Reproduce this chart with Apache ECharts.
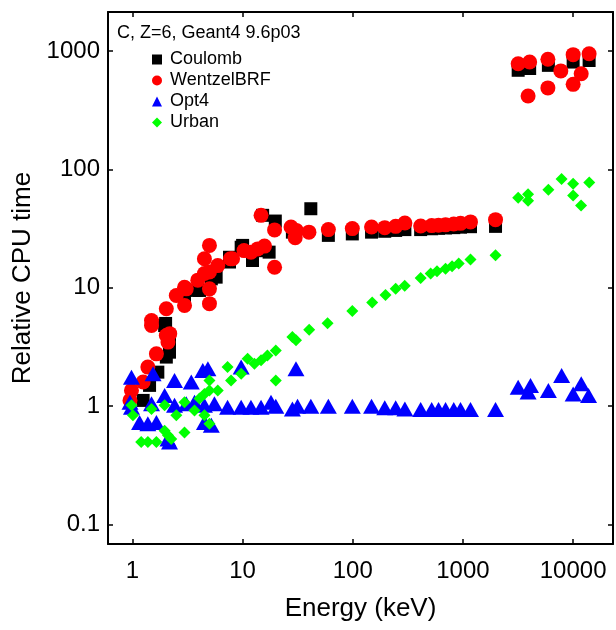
<!DOCTYPE html>
<html>
<head>
<meta charset="utf-8">
<script src="https://cdn.jsdelivr.net/npm/echarts@6/dist/echarts.min.js"></script>
<style>html,body{margin:0;padding:0;background:#fff}#c{width:616px;height:630px}</style>
</head>
<body>
<div id="c"></div>
<script>
const annotation = 'C, Z=6, Geant4 9.6p03';
const xTicks = [1, 10, 100, 1000, 10000];
const yTicks = [0.1, 1, 10, 100, 1000];

const coulombE = [1.25, 1.43, 1.7, 2.03, 2.17, 1.96, 2.17, 2.0, 2.97, 3.8, 4.06, 5.2, 5.75, 7.6, 7.6, 9.7, 10, 12.3, 14.2, 15.2, 15.2, 17.4, 19.8, 28.3, 41.6, 60, 99, 148, 195, 245, 297, 413, 520, 600, 695, 825, 950, 1170, 1975, 3170, 4030, 5960, 10000, 13960];
const coulombV = [1.12, 1.5, 1.94, 2.6, 2.86, 4.8, 3.6, 5.0, 8.35, 9.5, 9.5, 11.9, 12.3, 16.5, 18.1, 22, 22.8, 17, 20.6, 20.6, 40.9, 20, 36.6, 29.5, 46.5, 27.7, 28.5, 29.5, 30, 30.5, 31, 31, 31.5, 31.8, 32, 32.2, 32.5, 32.8, 33, 686, 710, 755, 805, 830];

const wentzelE = [0.95, 0.98, 1.25, 1.38, 1.49, 1.49, 1.65, 2.03, 2.1, 2.18, 2.03, 2.5, 2.97, 2.97, 3.08, 3.92, 4.5, 4.5, 5.0, 5.0, 5.0, 5.0, 5.95, 7.75, 8.1, 10.3, 11.9, 13.7, 14.7, 15.8, 19.5, 19.5, 27.5, 30, 30.7, 40, 60, 99, 148, 195, 245, 297, 413, 520, 600, 695, 825, 950, 1170, 1975, 3170, 4030, 3900, 5900, 5900, 7730, 10000, 10000, 11830, 13960];
const wentzelV = [1.12, 1.36, 1.6, 2.14, 4.8, 5.3, 2.77, 3.96, 3.48, 4.1, 6.65, 8.6, 7.1, 10.1, 9.8, 11.6, 13.2, 17.6, 22.8, 9.8, 7.35, 13.6, 15.4, 17.6, 17.6, 20.6, 20, 21.3, 40.9, 22.5, 30.8, 14.9, 32.6, 26.5, 30.5, 29.5, 31, 31.6, 32.6, 32.2, 33, 35.2, 33.2, 33.5, 33.8, 34.0, 34.6, 35, 36, 37.6, 779, 805, 416, 850, 487, 678, 930, 522, 641, 945];

const opt4E = [0.95, 0.98, 0.98, 1.16, 1.38, 1.49, 1.54, 1.65, 1.96, 2.1, 2.17, 2.41, 2.41, 3.08, 3.42, 3.66, 4.35, 4.5, 4.5, 4.84, 5.2, 5.55, 7.3, 9.7, 9.7, 11.9, 14.7, 18.1, 20, 28.3, 30.5, 31.5, 41.6, 60, 99, 148, 195, 245, 297, 413, 520, 600, 695, 825, 950, 1170, 1975, 3170, 3900, 4100, 5960, 7860, 10000, 11840, 13800];
const opt4V = [1.08, 0.98, 1.76, 0.73, 0.71, 1.05, 1.88, 0.73, 1.23, 0.53, 0.5, 1.65, 1.02, 1.05, 1.6, 1.08, 2.0, 0.73, 1.02, 2.07, 0.69, 1.05, 0.98, 0.98, 2.14, 0.98, 0.98, 1.08, 1.0, 0.95, 2.07, 1.0, 1.0, 1.0, 1.0, 1.0, 0.97, 0.97, 0.95, 0.94, 0.94, 0.94, 0.94, 0.94, 0.94, 0.94, 0.94, 1.45, 1.32, 1.5, 1.36, 1.82, 1.27, 1.55, 1.23];

const urbanE = [0.98, 1.01, 1.2, 1.38, 1.49, 1.65, 1.96, 1.96, 2.1, 2.25, 2.5, 2.97, 2.97, 3.66, 4.06, 4.5, 4.5, 5.0, 5.0, 5.0, 5.95, 7.3, 7.85, 9.7, 11.1, 12.8, 14.7, 16.8, 20, 20, 28.3, 30.5, 40.2, 59, 99, 150, 198, 245, 296, 413, 509, 581, 695, 796, 915, 1170, 1975, 3170, 3900, 3900, 5960, 7850, 10000, 10000, 11800, 14000];
const urbanV = [1.02, 0.84, 0.5, 0.5, 0.95, 0.5, 0.62, 1.02, 0.57, 0.53, 0.84, 1.08, 0.6, 0.92, 1.16, 1.27, 0.84, 1.36, 1.65, 0.71, 1.36, 2.14, 1.65, 1.88, 2.52, 2.28, 2.44, 2.68, 1.65, 2.96, 3.84, 3.6, 4.43, 5.03, 6.36, 7.5, 8.7, 9.8, 10.4, 12.1, 13.2, 13.8, 14.5, 15.2, 16.0, 17.3, 18.8, 57.6, 61.6, 54.2, 67.3, 83, 75.5, 60, 49.5, 77.5];

const zip = (a, b) => a.map((v, i) => [v, b[i]]);
const FONT = "'Liberation Sans', Arial, sans-serif";
const matchTick = (list, v) => list.find(t => Math.abs(Math.log10(v) - Math.log10(t)) < 1e-6);
const fmt = list => v => { const t = matchTick(list, v); return t === undefined ? '' : String(t); };

const xMin = 0.6, xMax = 23000, yMin = 0.0687, yMax = 2130;
const lineStyle = { color: '#000', width: 2 };
const tickStyle = { show: true, inside: true, length: 5, lineStyle: { color: '#000', width: 1.5 } };

const chart = echarts.init(document.getElementById('c'), null, { renderer: 'canvas' });
chart.setOption({
  animation: false,
  backgroundColor: '#fff',
  title: {
    text: annotation, left: 112, top: 19,
    textStyle: { fontFamily: FONT, fontSize: 18, fontWeight: 'normal', color: '#000' }
  },
  legend: {
    orient: 'vertical', left: 147, top: 44, itemGap: 0,
    itemWidth: 10, itemHeight: 10,
    textStyle: { fontFamily: FONT, fontSize: 18, color: '#000', lineHeight: 21, padding: [0, 0, 0, 3] },
    data: [
      { name: 'Coulomb', icon: 'rect' },
      { name: 'WentzelBRF', icon: 'circle' },
      { name: 'Opt4', icon: 'triangle' },
      { name: 'Urban', icon: 'diamond' }
    ]
  },
  grid: { left: 108, right: 3, top: 12, bottom: 86, containLabel: false },
  xAxis: [{
    type: 'log', logBase: 10, min: xMin, max: xMax,
    name: 'Energy (keV)', nameLocation: 'middle', nameGap: 52,
    nameTextStyle: { fontFamily: FONT, fontSize: 26, color: '#000' },
    axisLine: { show: true, onZero: false, lineStyle },
    axisTick: tickStyle,
    axisLabel: { fontFamily: FONT, fontSize: 24, color: '#000', margin: 15, formatter: fmt(xTicks), showMinLabel: false, showMaxLabel: false },
    splitLine: { show: false }, minorTick: { show: false }
  }, {
    type: 'log', logBase: 10, min: xMin, max: xMax, position: 'top',
    axisLine: { show: true, onZero: false, lineStyle },
    axisTick: tickStyle, axisLabel: { show: false }, splitLine: { show: false }
  }],
  yAxis: [{
    type: 'log', logBase: 10, min: yMin, max: yMax,
    name: 'Relative CPU time', nameLocation: 'middle', nameGap: 72,
    nameTextStyle: { fontFamily: FONT, fontSize: 26, color: '#000' },
    axisLine: { show: true, onZero: false, lineStyle },
    axisTick: tickStyle,
    axisLabel: { fontFamily: FONT, fontSize: 24, color: '#000', margin: 8, formatter: fmt(yTicks), showMinLabel: false, showMaxLabel: false },
    splitLine: { show: false }, minorTick: { show: false }
  }, {
    type: 'log', logBase: 10, min: yMin, max: yMax, position: 'right',
    axisLine: { show: true, onZero: false, lineStyle },
    axisTick: tickStyle, axisLabel: { show: false }, splitLine: { show: false }
  }],
  series: [
    { name: 'Coulomb', type: 'scatter', symbol: 'rect', symbolSize: 13,
      itemStyle: { color: '#000000', opacity: 1 }, data: zip(coulombE, coulombV) },
    { name: 'WentzelBRF', type: 'scatter', symbol: 'circle', symbolSize: 15,
      itemStyle: { color: '#ff0000', opacity: 1 }, data: zip(wentzelE, wentzelV) },
    { name: 'Opt4', type: 'scatter', symbol: 'triangle', symbolSize: [17, 15],
      itemStyle: { color: '#0000ff', opacity: 1 }, data: zip(opt4E, opt4V) },
    { name: 'Urban', type: 'scatter', symbol: 'diamond', symbolSize: 12,
      itemStyle: { color: '#00ff00', opacity: 1 }, data: zip(urbanE, urbanV) }
  ]
});
</script>
</body>
</html>
